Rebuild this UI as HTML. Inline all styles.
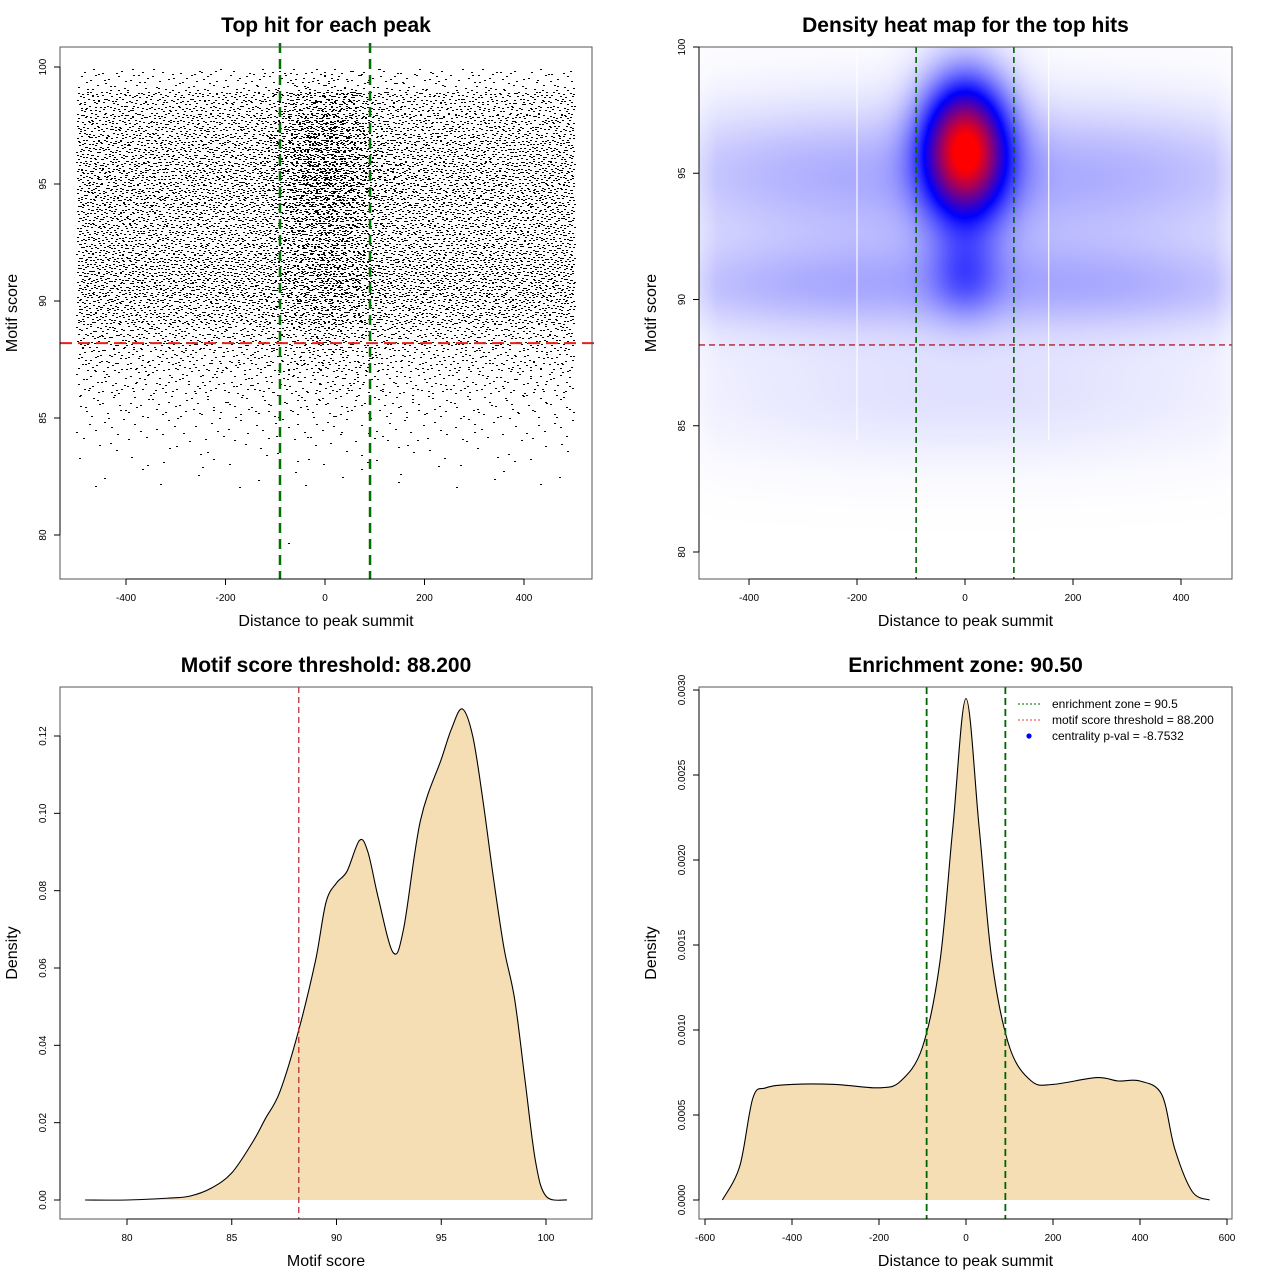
<!DOCTYPE html>
<html><head><meta charset="utf-8">
<style>
html,body{margin:0;padding:0;background:#fff;}
svg text{font-family:"Liberation Sans",Arial,sans-serif;}
#wrap{position:relative;width:1280px;height:1280px;}
#heat{position:absolute;left:699px;top:47px;}
#main{position:absolute;left:0;top:0;}
</style></head>
<body>
<div id="wrap">
<canvas id="heat" width="533" height="532"></canvas>
<svg id="main" width="1280" height="1280" xmlns="http://www.w3.org/2000/svg"></svg>
</div>
<script>
// ---------- DATA ----------
// Panel 1 scatter: counts per score bin (bin start) per 50-unit distance column, plus central excess
const scoreBins   = [79,80,81,82,83,84,85,86,87,88,89,90,91,92,93,94,95,96,97,98,99];
const outerCounts = [0,0,0,1,2,4,8,14,22,32,46,54,54,48,48,52,52,48,43,36,12];
const centerExtra = [1,0,0,0,1,4,10,18,30,45,70,100,120,120,150,200,240,230,180,130,30];
const distCols = [-500,-450,-400,-350,-300,-250,-200,-150,-100,-50,0,50,100,150,200,250,300,350,400,450];
// Panel 2 heatmap density components
const blobX   = [0, 0, -300, 300, -300, 300, 0, 0];
const blobY   = [96, 91, 90.5, 90.5, 95.2, 95.2, 86, 93];
const blobSX  = [55, 45, 260, 260, 260, 260, 400, 400];
const blobSY  = [1.9, 1.2, 1.2, 1.2, 1.7, 1.7, 1.8, 3.2];
const blobAmp = [0.92, 0.18, 0.1, 0.1, 0.09, 0.09, 0.05, 0.09];
// Panel 3 motif score density
const scoreX = [78,80,82,83,84,85,86,86.6,87.3,88.2,89,89.5,90,90.5,91.1,91.5,92,92.7,93.2,94,95,95.5,96,96.5,97,97.5,98,98.5,99,99.5,100,101];
const scoreD = [0,0,0.0005,0.001,0.003,0.007,0.015,0.021,0.028,0.044,0.062,0.077,0.082,0.085,0.093,0.09,0.078,0.064,0.07,0.098,0.114,0.122,0.127,0.12,0.103,0.083,0.065,0.052,0.031,0.01,0.001,0];
// Panel 4 distance density
const distX = [-560,-520,-490,-460,-400,-300,-200,-150,-100,-60,-30,0,30,60,100,150,200,300,350,400,450,480,520,560];
const distD = [0,0.0002,0.0006,0.00066,0.00068,0.00068,0.00066,0.0007,0.0009,0.0014,0.0022,0.00295,0.0022,0.0014,0.0009,0.0007,0.00068,0.00072,0.0007,0.0007,0.00062,0.0003,0.00005,0];
const xTicks1 = [-400,-200,0,200,400];
const yTicks1 = [80,85,90,95,100];
const xTicks3 = [80,85,90,95,100];
const yTicks3 = [0,0.02,0.04,0.06,0.08,0.10,0.12];
const yLabels3 = ["0.00","0.02","0.04","0.06","0.08","0.10","0.12"];
const xTicks4 = [-600,-400,-200,0,200,400,600];
const yTicks4 = [0,0.0005,0.001,0.0015,0.002,0.0025,0.003];
const yLabels4 = ["0.0000","0.0005","0.0010","0.0015","0.0020","0.0025","0.0030"];
const threshold = 88.2, zone = 90.5;

// ---------- HELPERS ----------
const NS="http://www.w3.org/2000/svg";
const svg=document.getElementById('main');
function el(tag,attrs,parent,txt){const e=document.createElementNS(NS,tag);for(const k in attrs)e.setAttribute(k,attrs[k]);if(txt!==undefined)e.textContent=txt;(parent||svg).appendChild(e);return e;}
function lin(d0,d1,r0,r1){return v=>r0+(v-d0)*(r1-r0)/(d1-d0);}
function smooth(P){let d=`M${P[0][0].toFixed(1)} ${P[0][1].toFixed(1)}`;
  for(let i=0;i<P.length-1;i++){const p0=P[Math.max(0,i-1)],p1=P[i],p2=P[i+1],p3=P[Math.min(P.length-1,i+2)];
    const c1=[p1[0]+(p2[0]-p0[0])/6,p1[1]+(p2[1]-p0[1])/6],c2=[p2[0]-(p3[0]-p1[0])/6,p2[1]-(p3[1]-p1[1])/6];
    d+=` C${c1[0].toFixed(1)} ${c1[1].toFixed(1)} ${c2[0].toFixed(1)} ${c2[1].toFixed(1)} ${p2[0].toFixed(1)} ${p2[1].toFixed(1)}`;}
  return d;}
function axes(g,box,sx,sy,xt,yt,xl,yl,title,xlab,ylab,name){
  el('rect',{x:box.x0,y:box.y0,width:box.x1-box.x0,height:box.y1-box.y0,fill:'none',stroke:'#555','stroke-width':1},g);
  const xa=el('g',{},g);
  el('line',{x1:sx(xt[0]),x2:sx(xt[xt.length-1]),y1:box.y1,y2:box.y1,stroke:'#000'},xa);
  xt.forEach((t,i)=>{const x=sx(t);el('line',{x1:x,x2:x,y1:box.y1,y2:box.y1+6,stroke:'#000'},xa);
    const tx=el('text',{x:x,y:box.y1+22,'font-size':10,'text-anchor':'middle'},xa,xl?xl[i]:String(t));});
  const ya=el('g',{},g);
  el('line',{x1:box.x0,x2:box.x0,y1:sy(yt[0]),y2:sy(yt[yt.length-1]),stroke:'#000'},ya);
  yt.forEach((t,i)=>{const y=sy(t);el('line',{x1:box.x0-6,x2:box.x0,y1:y,y2:y,stroke:'#000'},ya);
    const tx=el('text',{x:box.x0-14,y:y,'font-size':10,'text-anchor':'middle',transform:`rotate(-90 ${box.x0-14} ${y})`},ya,yl?yl[i]:String(t));});
  const cx=(box.x0+box.x1)/2, cy=(box.y0+box.y1)/2;
  const tt=el('text',{x:cx,y:box.y0-15,'font-size':21,'font-weight':'bold','text-anchor':'middle'},g,title);
  const xlb=el('text',{x:cx,y:box.y1+47,'font-size':16,'text-anchor':'middle'},g,xlab);
  const ylx=box.x0-43;
  const ylb=el('text',{x:ylx,y:cy,'font-size':16,'text-anchor':'middle',transform:`rotate(-90 ${ylx} ${cy})`},g,ylab);
}
function halton(i,b){let f=1,r=0;while(i>0){f/=b;r+=f*(i%b);i=Math.floor(i/b);}return r;}
function boxMuller(u,v){return Math.sqrt(-2*Math.log(Math.max(u,1e-6)))*Math.cos(2*Math.PI*v);}

// ---------- PANEL 1 ----------
{
const g=el('g',{});
const box={x0:60,y0:47,x1:592,y1:579};
const sx=lin(0,400,325,524), sy=lin(80,100,535,67);
const pts=el('g',{fill:'#000'},g);
let idx=1, d='';
function put(xv,yv){if(yv>99.9||xv<-500||xv>500)return;const px=Math.round(sx(xv)), py=Math.round(sy(yv));d+=`M${px} ${py}h2v1h-2z`;}
scoreBins.forEach((s,r)=>{
  distCols.forEach(c=>{for(let k=0;k<outerCounts[r];k++){idx++;put(c+halton(idx,2)*50, s+Math.round(halton(idx,3)*20)/20);}});
  for(let k=0;k<centerExtra[r];k++){idx++;put(55*boxMuller(halton(idx,2),halton(idx,5)), s+Math.round(halton(idx,3)*20)/20);}
});
el('path',{d:d},pts);
const hl=el('line',{x1:box.x0,x2:box.x1+8,y1:sy(threshold),y2:sy(threshold),stroke:'#e8201c','stroke-width':2,'stroke-dasharray':'12,6'},g);
[-zone,zone].forEach(v=>{const l=el('line',{x1:sx(v),x2:sx(v),y1:box.y0-4,y2:box.y1,stroke:'#007000','stroke-width':2.5,'stroke-dasharray':'10,6'},g);});
axes(g,box,sx,sy,xTicks1,yTicks1,null,null,'Top hit for each peak','Distance to peak summit','Motif score','scatter');
}

// ---------- PANEL 2 ----------
{
const box={x0:699,y0:47,x1:1232,y1:579};
const sx=lin(0,400,965,1181), sy=lin(80,100,552,47);
const cv=document.getElementById('heat'),ctx=cv.getContext('2d');
const W=cv.width,H=cv.height,img=ctx.createImageData(W,H);
for(let py=0;py<H;py++){const yv=80+(552-(py+47))/25.25;
 for(let px=0;px<W;px++){const xv=(px+699-965)/0.54;
  let dsum=0;
  for(let b=0;b<blobX.length;b++){const dx=(xv-blobX[b])/blobSX[b],dy=(yv-blobY[b])/blobSY[b];dsum+=blobAmp[b]*Math.exp(-0.5*(dx*dx+dy*dy));}
  const edge=Math.min(1,Math.max(0,(510-Math.abs(xv))/50));
  dsum*= (0.5+0.5*edge);
  const t=Math.min(1,dsum);let r,gg,bl;
  if(t<0.5){const u=t/0.5;r=255*(1-u);gg=255*(1-u);bl=255;}else{const u=(t-0.5)/0.5;r=255*u;gg=0;bl=255*(1-u);}
  const o=(py*W+px)*4;img.data[o]=r;img.data[o+1]=gg;img.data[o+2]=bl;img.data[o+3]=255;}}
ctx.putImageData(img,0,0);
const g=el('g',{});
[-200,155].forEach(v=>{el('line',{x1:sx(v),x2:sx(v),y1:box.y0,y2:440,stroke:'#fff','stroke-width':1.2,opacity:0.9},g);});
const hl=el('line',{x1:box.x0,x2:box.x1,y1:sy(threshold),y2:sy(threshold),stroke:'#b22030','stroke-width':1.3,'stroke-dasharray':'6,4'},g);
[-zone,zone].forEach(v=>{const l=el('line',{x1:sx(v),x2:sx(v),y1:box.y0,y2:box.y1,stroke:'#006400','stroke-width':1.6,'stroke-dasharray':'6,4'},g);});
axes(g,box,sx,sy,xTicks1,yTicks1,null,null,'Density heat map for the top hits','Distance to peak summit','Motif score','heatmap');
}

// ---------- PANEL 3 ----------
{
const g=el('g',{});
const box={x0:60,y0:687,x1:592,y1:1219};
const sx=lin(80,100,127,546), sy=lin(0,0.12,1200,736);
const P=scoreX.map((x,i)=>[sx(x),sy(scoreD[i])]);
const d=smooth(P);
const a=el('path',{d:d+`L${P[P.length-1][0]} ${sy(0)} L${P[0][0]} ${sy(0)}Z`,fill:'#f5deb3',stroke:'none'},g);
const c=el('path',{d:d,fill:'none',stroke:'#000','stroke-width':1.1,'stroke-linejoin':'round'},g);
const l=el('line',{x1:sx(threshold),x2:sx(threshold),y1:box.y0,y2:box.y1,stroke:'#b22030','stroke-width':1.2,'stroke-dasharray':'6,4'},g);
axes(g,box,sx,sy,xTicks3,yTicks3,null,yLabels3,'Motif score threshold: 88.200','Motif score','Density','score-density');
}

// ---------- PANEL 4 ----------
{
const g=el('g',{});
const box={x0:699,y0:687,x1:1232,y1:1219};
const sx=lin(0,600,966,1227), sy=lin(0,0.003,1200,690);
const P=distX.map((x,i)=>[sx(x),sy(distD[i])]);
const d=smooth(P);
const a=el('path',{d:d+`L${P[P.length-1][0]} ${sy(0)} L${P[0][0]} ${sy(0)}Z`,fill:'#f5deb3',stroke:'none'},g);
const c=el('path',{d:d,fill:'none',stroke:'#000','stroke-width':1.1,'stroke-linejoin':'round'},g);
[-zone,zone].forEach(v=>{const l=el('line',{x1:sx(v),x2:sx(v),y1:box.y0,y2:box.y1,stroke:'#006400','stroke-width':1.8,'stroke-dasharray':'7,4'},g);});
axes(g,box,sx,sy,xTicks4,yTicks4,null,yLabels4,'Enrichment zone: 90.50','Distance to peak summit','Density','distance-density');
const lg=el('g',{},g);
const items=[['enrichment zone = 90.5','#006400','line'],['motif score threshold = 88.200','#e84040','line'],['centrality p-val = -8.7532','#0000ff','dot']];
items.forEach((it,i)=>{const y=704+i*16;
  const e=el('g',{},lg);
  if(it[2]==='line')el('line',{x1:1018,x2:1042,y1:y,y2:y,stroke:it[1],'stroke-width':1,'stroke-dasharray':'2,2'},e);
  else el('circle',{cx:1029,cy:y,r:2.6,fill:it[1]},e);
  el('text',{x:1052,y:y+4,'font-size':12},e,it[0]);});
}
</script>
</body></html>
